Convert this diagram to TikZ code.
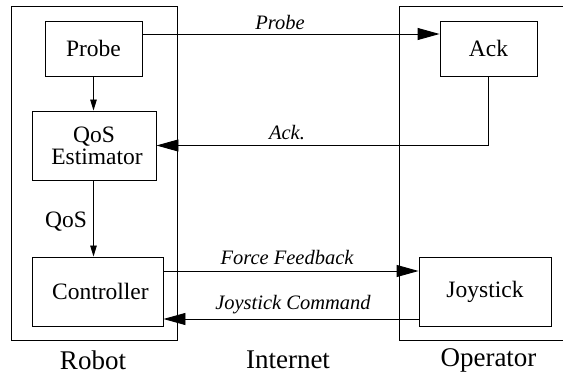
\documentclass[tikz,border=0pt]{standalone}
\usepackage{fontspec}
\setmainfont{Liberation Serif}
\usetikzlibrary{arrows.meta}
\newcommand\bxfont{\fontsize{23.5}{22}\selectfont}
\newcommand\lblfont{\fontsize{20.5}{22}\selectfont\itshape}
\newcommand\sidefont{\fontsize{27}{28}\selectfont}
\begin{document}
\begin{tikzpicture}[x=1pt,y=-1pt,
  frame/.style={line width=1pt},
  box/.style={draw, line width=0.9pt, inner sep=0pt, font=\bxfont, align=center},
  bigarrow/.style={line width=0.9pt, -{Triangle[length=22pt,width=12pt]}},
  smallarrow/.style={line width=0.9pt, -{Triangle[length=11pt,width=6.5pt]}},
  msg/.style={font=\lblfont, inner sep=0pt},
  side/.style={font=\sidefont, inner sep=0pt}]
\useasboundingbox (0,0) rectangle (563,377);

% robot and operator enclosures
\draw[frame] (11,7) rectangle (177,340);
\draw[frame] (575,7) -- (399,7) -- (399,340) -- (575,340);

% robot side
\node[box, minimum width=97pt, minimum height=55pt] (probe) at (93.5,48.5) {Probe};
\node[box, minimum width=124pt, minimum height=69pt] (qos) at (94,145.5) {QoS\\\ Estimator};
\node[box, minimum width=131pt, minimum height=69pt] (ctrl) at (97.5,291.5) {\ Controller};

% operator side
\node[box, minimum width=97pt, minimum height=55pt] (ack) at (488.5,48.5) {Ack};
\node[box, minimum width=132pt, minimum height=69pt] (joy) at (485,291.5) {Joystick};

% local links
\draw[smallarrow] (probe.south) -- (probe.south |- qos.north);
\draw[smallarrow] (qos.south -| probe.south) -- (ctrl.north -| probe.south);
\node[font=\bxfont, inner sep=0pt] (qoslbl) at (66,222) {QoS};

% network messages
\draw[bigarrow] (probe.east |- 0,34) -- (ack.west |- 0,34);
\node[msg] (probemsg) at (280,22) {Probe};
\draw[bigarrow] (ack.south) |- (qos.east);
\node[msg] (ackmsg) at (287,133) {Ack.};
\draw[bigarrow] (ctrl.east |- 0,271) -- (joy.west |- 0,271);
\node[msg] (ffmsg) at (287,257) {Force Feedback};
\draw[bigarrow] (joy.west |- 0,319) -- (ctrl.east |- 0,319);
\node[msg] (jcmsg) at (293,305) {Joystick Command};

% region names
\node[side] (robot) at (93,360) {Robot};
\node[side] (internet) at (288,360) {Internet};
\node[side] (operator) at (488.5,360) {Operator};
\end{tikzpicture}
\end{document}
